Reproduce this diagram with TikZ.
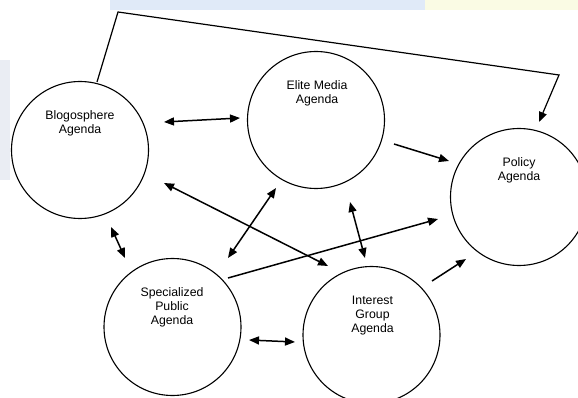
\documentclass[tikz,border=0pt]{standalone}
\usepackage{fontspec}
\setmainfont{Liberation Sans}
\usetikzlibrary{arrows.meta}
\definecolor{bandblue}{HTML}{E0EAF8}
\definecolor{bandyellow}{HTML}{FAFBE4}
\definecolor{sideblue}{HTML}{EAEDF3}
\tikzset{
  agenda/.style={circle, draw=black, line width=1.1pt, minimum size=137pt, inner sep=0pt},
  lbl/.style={align=center, anchor=base, inner sep=0pt, font=\fontsize{12.3pt}{14pt}\selectfont},
  link/.style={line width=1.5pt, -{Triangle[length=10pt,width=8pt]}},
  dlink/.style={line width=1.5pt, {Triangle[length=10pt,width=8pt]}-{Triangle[length=10pt,width=8pt]}},
}
\begin{document}
\begin{tikzpicture}[x=1pt,y=-1pt]
\useasboundingbox (0,0) rectangle (578,398);
\fill[white] (0,0) rectangle (578,398);
% faint slide background
\fill[bandblue] (110,0) rectangle (425,10);
\fill[bandyellow] (425,0) rectangle (578,10);
\fill[sideblue] (0,60) rectangle (10,180);

% circles
\node[agenda] (blog) at (80,150) {};
\node[agenda] (elite) at (316,120) {};
\node[agenda] (policy) at (519,197) {};
\node[agenda] (spec) at (172.5,327) {};
\node[agenda] (inter) at (371.5,335) {};

% labels (anchor=base is the baseline of the last line)
\node[lbl] (blogt) at (80,133.5) {Blogosphere\\Agenda};
\node[lbl] (elitet) at (317,104) {Elite Media\\Agenda};
\node[lbl] (policyt) at (519,181) {Policy\\Agenda};
\node[lbl] (spect) at (172,324.5) {Specialized\\Public\\Agenda};
\node[lbl] (intert) at (372.5,332) {Interest\\Group\\Agenda};

% arrow end points
\coordinate (a1s) at (164,122); \coordinate (a1e) at (240,118);
\coordinate (a2s) at (394,144); \coordinate (a2e) at (449,161);
\coordinate (a3s) at (97,82); \coordinate (a3b1) at (118,12); \coordinate (a3b2) at (559,75); \coordinate (a3e) at (539,122);
\coordinate (a4s) at (164,183); \coordinate (a4e) at (328,266);
\coordinate (a5s) at (276,188); \coordinate (a5e) at (228,258);
\coordinate (a6s) at (111,227); \coordinate (a6e) at (125,258);
\coordinate (a7s) at (228,278); \coordinate (a7e) at (438,219);
\coordinate (a8s) at (350,202); \coordinate (a8e) at (365,258);
\coordinate (a9s) at (249,340); \coordinate (a9e) at (295,342);
\coordinate (a10s) at (432,281); \coordinate (a10e) at (466,259);

\draw[dlink] (a1s) -- (a1e);
\draw[link] (a2s) -- (a2e);
\draw[link, line width=1.2pt, line join=miter] (a3s) -- (a3b1) -- (a3b2) -- (a3e);
\draw[dlink] (a4s) -- (a4e);
\draw[dlink] (a5s) -- (a5e);
\draw[dlink] (a6s) -- (a6e);
\draw[link] (a7s) -- (a7e);
\draw[dlink] (a8s) -- (a8e);
\draw[dlink] (a9s) -- (a9e);
\draw[link] (a10s) -- (a10e);
\end{tikzpicture}
\end{document}
